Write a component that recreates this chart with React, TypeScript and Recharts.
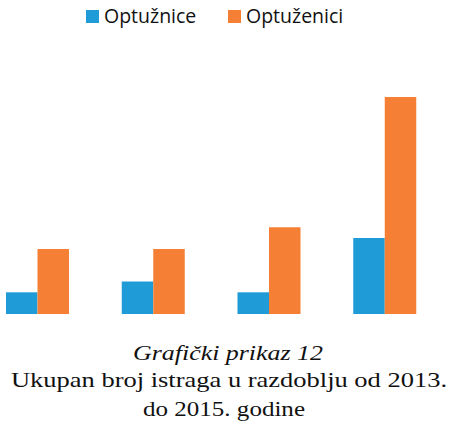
import React from "react";
import { BarChart, Bar, XAxis, YAxis, Legend } from "recharts";

const categories = ["2013", "2014", "2015", "Ukupno"];
const optuznice = [2, 3, 2, 7];
const optuzenici = [6, 6, 8, 20];
const seriesNames = ["Optužnice", "Optuženici"];
const captionLines = [
  "Grafički prikaz 12",
  "Ukupan broj istraga u razdoblju od 2013.",
  "do 2015. godine",
];

const BLUE = "#1F9BD7";
const ORANGE = "#F58035";
const SERIF = "Liberation Serif, Times New Roman, Times, serif";

const data = categories.map((c, i) => ({
  name: c,
  a: optuznice[i],
  b: optuzenici[i],
}));

const LegendContent = () => {
  const items = [
    { name: seriesNames[0], color: BLUE, sq: 86, tx: 104 },
    { name: seriesNames[1], color: ORANGE, sq: 228, tx: 246 },
  ];
  return (
    <div style={{ position: "relative", width: 450, height: 34 }}>
      {items.map((it) => (
        <React.Fragment key={it.name}>
          <div
            style={{
              position: "absolute",
              left: it.sq,
              top: 10,
              width: 13,
              height: 13,
              background: it.color,
            }}
          />
          <div
            style={{
              position: "absolute",
              left: it.tx,
              top: 2,
              fontFamily: "'Open Sans', sans-serif",
              fontSize: 19.5,
              lineHeight: "28px",
              color: "#111",
              whiteSpace: "nowrap",
            }}
          >
            {it.name}
          </div>
        </React.Fragment>
      ))}
    </div>
  );
};

export default function App() {
  return (
    <div
      style={{
        position: "absolute",
        left: 0,
        top: 0,
        width: 450,
        height: 428,
        overflow: "hidden",
        background: "#fff",
      }}
    >
      <div style={{ position: "absolute", left: -20, top: 0 }}>
        <BarChart
          width={463}
          height={348}
          data={data}
          margin={{ top: 97, right: 0, bottom: 0, left: 0 }}
          barGap={0}
        >
          <XAxis dataKey="name" hide />
          <YAxis hide domain={[0, 20]} />
          <Legend
            content={<LegendContent />}
            height={34}
            wrapperStyle={{ position: "absolute", top: 0, left: 20, width: 450, height: 34 }}
          />
          <Bar dataKey="a" name={seriesNames[0]} fill={BLUE} barSize={31.5} isAnimationActive={false} />
          <Bar dataKey="b" name={seriesNames[1]} fill={ORANGE} barSize={31.5} isAnimationActive={false} />
        </BarChart>
      </div>
      <svg
        width={450}
        height={428}
        style={{ position: "absolute", left: 0, top: 0, pointerEvents: "none" }}
      >
        <text
          x={133}
          y={360}
          fontFamily={SERIF}
          fontStyle="italic"
          fontSize={21}
          fill="#111"
          textLength={190}
          lengthAdjust="spacingAndGlyphs"
        >
          {captionLines[0]}
        </text>
        <text
          x={11}
          y={387}
          fontFamily={SERIF}
          fontSize={21}
          fill="#111"
          textLength={436}
          lengthAdjust="spacingAndGlyphs"
        >
          {captionLines[1]}
        </text>
        <text
          x={143}
          y={416}
          fontFamily={SERIF}
          fontSize={21}
          fill="#111"
          textLength={162}
          lengthAdjust="spacingAndGlyphs"
        >
          {captionLines[2]}
        </text>
      </svg>
    </div>
  );
}
